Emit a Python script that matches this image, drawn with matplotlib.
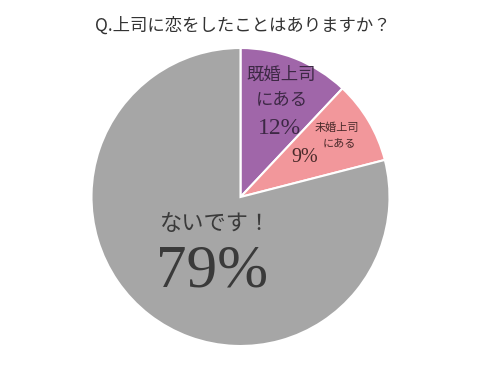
import matplotlib
matplotlib.use("Agg")
import matplotlib.pyplot as plt

categories = ["既婚上司にある", "未婚上司にある", "ないです！"]
values = [12, 9, 79]
colors = ["#A066A9", "#F2979B", "#A6A6A6"]
title = "Q.上司に恋をしたことはありますか？"

W, H = 482, 388
fig = plt.figure(figsize=(W/100, H/100), dpi=100)
cx, cy, r = 240.5, 197, 149
ax = fig.add_axes([(cx-r)/W, (H-cy-r)/H, 2*r/W, 2*r/H])
ax.pie(values, colors=colors, startangle=90, counterclock=False,
       wedgeprops=dict(edgecolor="white", linewidth=1.5), radius=1)
ax.set_xlim(-1, 1); ax.set_ylim(-1, 1)
ax.set_aspect("equal")
ax.axis("off")

jp = ["Noto Sans CJK JP", "DejaVu Sans"]
serif = ["Liberation Serif", "DejaVu Serif"]

def T(x, y, s, size, color, fam, **kw):
    fig.text(x/W, 1 - y/H, s, fontsize=size, color=color, family=fam,
             ha="center", va="center", **kw)

T(243, 26, title, 12.5, "#333333", jp)
T(281, 75, "既婚上司", 12.5, "#3d2845", jp)
T(282, 100, "にある", 12.5, "#3d2845", jp)
T(279, 128, f"{values[0]}%", 17, "#3d2845", serif)
T(337, 128, "未婚上司", 8, "#4a2a2a", jp)
T(339, 143, "にある", 8, "#4a2a2a", jp)
T(305, 157, f"{values[1]}%", 14.5, "#4a2a2a", serif)
T(216, 224, "ないです！", 16, "#3a3a3a", jp)
T(212, 272, f"{values[2]}%", 44, "#3a3a3a", serif)

fig.savefig("out.png", dpi=100)
